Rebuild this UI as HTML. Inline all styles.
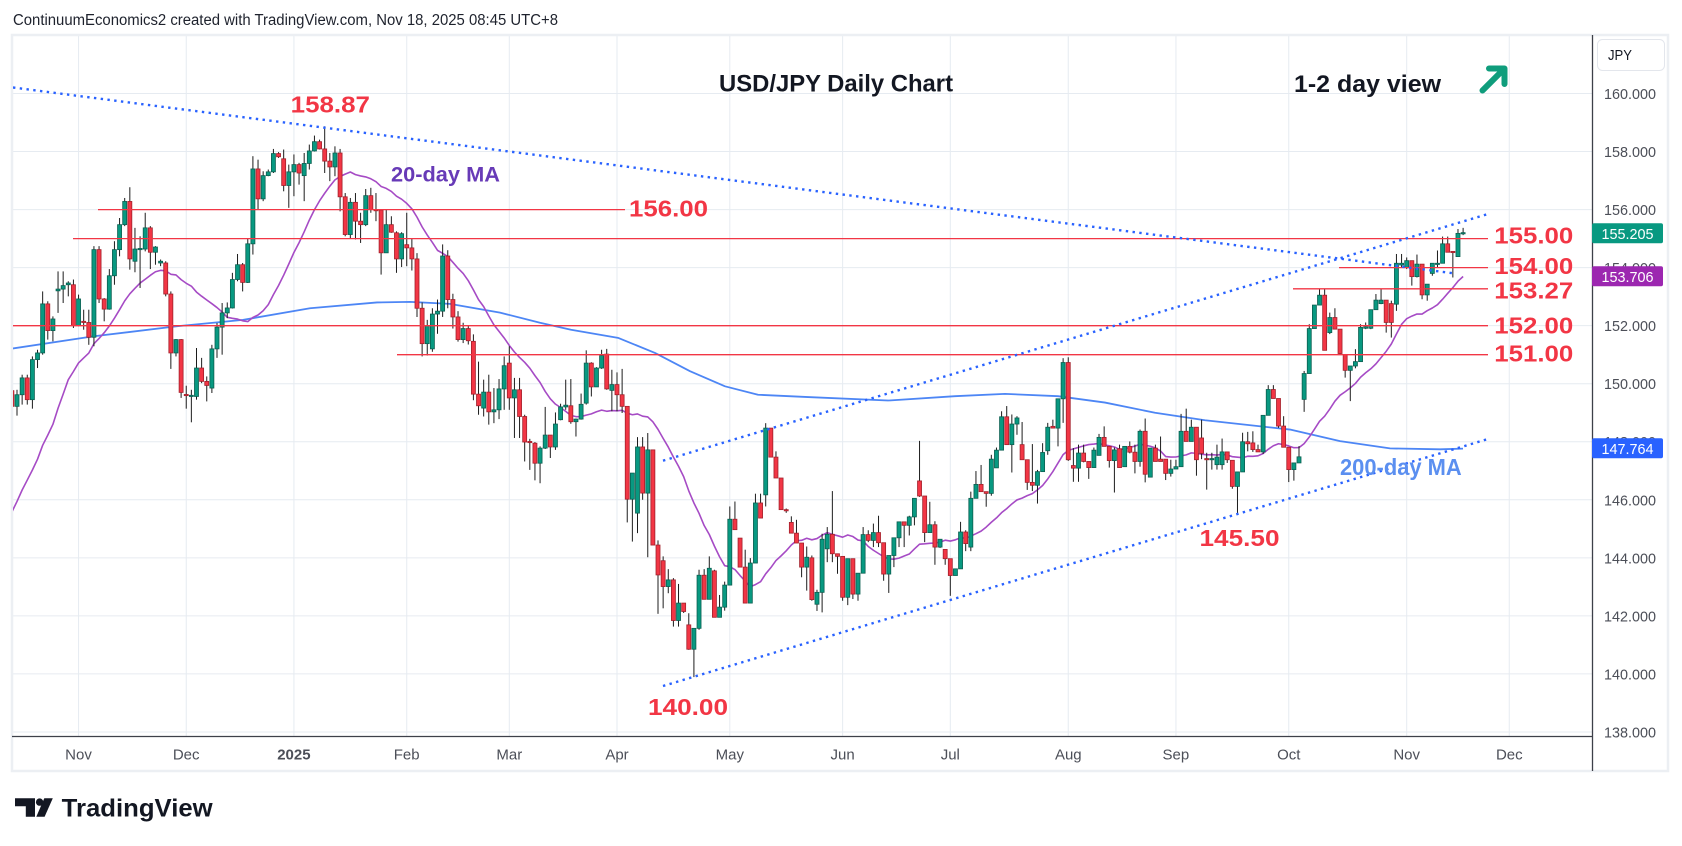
<!DOCTYPE html>
<html><head><meta charset="utf-8">
<style>
html,body{margin:0;padding:0;background:#fff;}
body{width:1682px;height:846px;overflow:hidden;}
svg{display:block;font-family:"Liberation Sans",Arial,sans-serif;}
</style></head>
<body>
<svg id="c" width="1682" height="846" viewBox="0 0 1682 846" xmlns="http://www.w3.org/2000/svg">
<defs><clipPath id="plot"><rect x="13" y="36" width="1579" height="700"/></clipPath></defs>
<rect width="1682" height="846" fill="#fff"/>
<g id="grid" stroke="#e6ebf1" stroke-width="1"></g>
<rect x="12" y="35" width="1656" height="736" fill="none" stroke="#eceff3" stroke-width="2.5"/>
<g clip-path="url(#plot)">
  <g id="ma"></g>
  <g id="wicks" stroke="#1c1c1c" stroke-width="1"></g>
  <g id="bodies"></g>
  <g stroke="#f23645" stroke-width="1.3">
    <line x1="98" x2="625" y1="209.6" y2="209.6"/>
    <line x1="73" x2="1488" y1="238.6" y2="238.6"/>
    <line x1="1339" x2="1488" y1="267.6" y2="267.6"/>
    <line x1="1293" x2="1488" y1="288.8" y2="288.8"/>
    <line x1="13" x2="1488" y1="325.7" y2="325.7"/>
    <line x1="397" x2="1488" y1="354.7" y2="354.7"/>
  </g>
  <g stroke="#2962ff" stroke-width="2.4" stroke-dasharray="2.4 4.4" fill="none">
    <line x1="13" y1="87.5" x2="1455" y2="273.5"/>
    <line x1="663" y1="460.7" x2="1487" y2="214.3"/>
    <line x1="663" y1="686" x2="1487" y2="439.3"/>
  </g>
</g>
<line x1="12" x2="1592" y1="736.5" y2="736.5" stroke="#3d4049" stroke-width="1.3"/>
<line x1="1592.5" x2="1592.5" y1="35" y2="771" stroke="#3d4049" stroke-width="1.3"/>

<!-- header -->
<text x="13" y="25" font-size="15.5" fill="#1e222d" textLength="545" lengthAdjust="spacingAndGlyphs">ContinuumEconomics2 created with TradingView.com, Nov 18, 2025 08:45 UTC+8</text>

<!-- titles -->
<text x="719" y="91.7" font-size="24" font-weight="bold" fill="#131722" textLength="234" lengthAdjust="spacingAndGlyphs">USD/JPY Daily Chart</text>
<text x="1294" y="92" font-size="24" font-weight="bold" fill="#131722" textLength="147" lengthAdjust="spacingAndGlyphs">1-2 day view</text>
<path d="M1482.5 90.5 L1503.5 69.5 M1489 68.5 H1504.5 V84" stroke="#0f9d7c" stroke-width="6" fill="none" stroke-linecap="round" stroke-linejoin="round"/>

<!-- level labels -->
<g font-size="23" font-weight="bold" fill="#f23645">
<text x="290.7" y="112.3" textLength="79.3" lengthAdjust="spacingAndGlyphs">158.87</text>
<text x="629" y="216.5" textLength="79" lengthAdjust="spacingAndGlyphs">156.00</text>
<text x="1494.3" y="243.3" textLength="79" lengthAdjust="spacingAndGlyphs">155.00</text>
<text x="1494.3" y="274" textLength="79" lengthAdjust="spacingAndGlyphs">154.00</text>
<text x="1494.3" y="298.3" textLength="79" lengthAdjust="spacingAndGlyphs">153.27</text>
<text x="1494.3" y="333.3" textLength="79" lengthAdjust="spacingAndGlyphs">152.00</text>
<text x="1494.3" y="361.7" textLength="79" lengthAdjust="spacingAndGlyphs">151.00</text>
<text x="648" y="715" textLength="80" lengthAdjust="spacingAndGlyphs">140.00</text>
<text x="1199.5" y="546" textLength="80" lengthAdjust="spacingAndGlyphs">145.50</text>
</g>
<text x="391" y="181.7" font-size="21" font-weight="bold" fill="#673ab7" textLength="109" lengthAdjust="spacingAndGlyphs">20-day MA</text>
<text x="1340" y="475" font-size="23" font-weight="bold" fill="#5b8ff0" textLength="121.7" lengthAdjust="spacingAndGlyphs">200-day MA</text>

<!-- price axis -->
<g id="paxis" font-size="15" fill="#4c4f58" text-anchor="middle"></g>
<rect x="1597.5" y="39.5" width="67" height="31" rx="5" fill="#fff" stroke="#e3e6ec"/>
<text x="1608" y="60" font-size="15" fill="#131722" textLength="24" lengthAdjust="spacingAndGlyphs">JPY</text>
<rect x="1592" y="223.3" width="71" height="20" rx="2" fill="#089981"/>
<text x="1627.5" y="238.8" font-size="15" fill="#fff" text-anchor="middle" textLength="52" lengthAdjust="spacingAndGlyphs">155.205</text>
<rect x="1592" y="266.3" width="71" height="20" rx="2" fill="#9c27b0"/>
<text x="1627.5" y="281.8" font-size="15" fill="#fff" text-anchor="middle" textLength="52" lengthAdjust="spacingAndGlyphs">153.706</text>
<rect x="1592" y="438.3" width="71" height="20" rx="2" fill="#2962ff"/>
<text x="1627.5" y="453.8" font-size="15" fill="#fff" text-anchor="middle" textLength="52" lengthAdjust="spacingAndGlyphs">147.764</text>

<!-- time axis -->
<g font-size="15" fill="#4c4f58" text-anchor="middle">
<text x="78.5" y="759.3">Nov</text>
<text x="186.2" y="759.3">Dec</text>
<text x="293.9" y="759.3" font-weight="bold">2025</text>
<text x="406.7" y="759.3">Feb</text>
<text x="509.3" y="759.3">Mar</text>
<text x="617" y="759.3">Apr</text>
<text x="729.8" y="759.3">May</text>
<text x="842.6" y="759.3">Jun</text>
<text x="950.3" y="759.3">Jul</text>
<text x="1068.3" y="759.3">Aug</text>
<text x="1175.9" y="759.3">Sep</text>
<text x="1288.8" y="759.3">Oct</text>
<text x="1406.7" y="759.3">Nov</text>
<text x="1509.3" y="759.3">Dec</text>
</g>

<!-- logo -->
<path d="M15 798.3H35V816.7H25.8V806.2H15Z" fill="#131722"/>
<circle cx="39.6" cy="802.1" r="3.7" fill="#131722"/>
<path d="M44.3 798.3H52.8L44.6 816.7H36.3Z" fill="#131722"/>
<text x="61.7" y="816.7" font-size="25" font-weight="bold" fill="#131722" textLength="151" lengthAdjust="spacingAndGlyphs">TradingView</text>
</svg>
<script>
(function(){
const X=k=>509.3+5.128*k, Y=p=>383.7-(p-150)*29.02;
const D=[
[149.76,149.9,149.1,149.22],[149.22,149.79,148.90,149.62],[149.62,150.31,149.28,150.20],[150.20,150.31,149.28,149.45],
[149.45,150.94,149.14,150.83],[150.83,151.17,150.54,151.06],[151.06,153.18,151.00,152.75],[152.75,152.84,151.52,151.83],
[151.83,152.32,151.46,152.23],[153.20,153.87,152.44,153.26],[153.26,153.87,152.78,153.38],[153.41,153.53,153.01,153.47],
[153.41,153.59,151.92,152.00],[152.00,153.07,151.98,152.92],[152.15,152.55,151.86,152.11],[152.11,152.55,151.34,151.60],
[151.60,154.74,151.29,154.62],[154.62,154.74,152.78,152.92],[152.92,152.95,152.15,152.57],[152.57,153.95,152.55,153.72],
[153.72,154.91,153.41,154.62],[154.62,155.71,154.39,155.48],[155.48,156.40,155.43,156.28],[156.28,156.77,153.93,154.30],
[154.22,155.37,153.84,154.64],[154.64,155.08,153.30,154.66],[154.64,155.89,154.56,155.37],[155.37,155.43,153.95,154.53],
[154.53,154.74,154.10,154.71],[154.16,154.28,154.05,154.22],[154.16,154.22,153.01,153.09],[153.09,153.18,150.51,151.06],
[151.06,151.54,150.94,151.52],[151.52,151.54,149.51,149.70],[149.63,149.93,149.14,149.61],[149.58,149.79,148.67,149.60],
[149.56,151.23,149.45,150.54],[150.54,150.89,150.02,150.08],[150.08,150.25,149.39,149.94],[149.85,151.34,149.68,151.20],
[151.20,152.09,150.89,151.95],[151.95,152.78,151.00,152.44],[152.44,152.80,152.26,152.61],[152.61,153.82,152.59,153.59],
[153.59,154.47,153.53,154.10],[154.10,154.16,153.18,153.49],[153.49,155.02,153.47,154.82],[154.82,157.84,154.45,157.40],
[157.40,157.72,156.00,156.37],[156.37,157.32,156.29,157.17],[157.17,157.38,157.15,157.30],[157.30,158.09,157.26,157.93],
[157.93,157.98,157.78,157.82],[157.75,158.07,156.63,156.83],[156.83,157.55,156.06,157.30],[157.30,157.90,156.46,157.55],
[157.55,157.61,156.86,157.26],[157.17,157.95,156.29,157.59],[157.59,158.24,157.38,158.02],[158.02,158.55,158.00,158.34],
[158.34,158.41,158.07,158.09],[158.09,158.87,157.26,157.67],[157.67,157.95,156.98,157.47],[157.47,158.18,157.15,157.95],
[157.95,158.09,155.94,156.44],[156.44,156.57,155.08,155.14],[155.14,156.40,155.02,156.25],[156.25,156.57,154.97,155.60],
[155.60,155.89,154.85,155.48],[155.48,156.71,155.43,156.48],[156.48,156.75,155.89,156.00],[156.00,156.57,155.60,155.96],
[155.98,156.00,153.76,154.51],[154.51,156.00,154.51,155.48],[155.48,155.77,155.20,155.22],[155.20,155.25,153.82,154.30],
[154.30,155.22,154.02,155.17],[154.79,155.89,154.05,154.68],
[154.68,155.0,153.9,154.30],[154.30,154.5,152.3,152.60],[152.60,152.8,150.94,151.38],[151.38,152.2,150.97,152.00],
[151.20,152.6,151.1,152.40],[152.40,152.9,151.72,152.50],[152.50,154.8,152.3,154.40],[154.40,154.6,152.6,152.90],
[152.90,153.1,151.9,152.30],[152.30,152.5,151.45,151.52],[151.52,152.1,151.4,151.90],[151.90,152.0,151.35,151.48],
[151.46,151.7,149.43,149.64],[149.64,150.76,148.93,149.24],[149.16,150.14,148.87,149.71],[149.71,150.31,148.59,149.03],
[149.03,149.85,148.64,149.10],[149.10,150.16,148.78,149.82],[149.82,150.94,149.10,150.62],
[150.71,151.29,149.10,149.51],[149.51,150.20,148.13,149.79],[149.79,150.20,148.13,148.87],[148.87,148.93,147.32,147.99],
[148.01,148.10,147.03,147.99],[147.95,147.99,146.67,147.26],[147.26,147.84,146.57,147.78],[147.78,149.20,147.75,148.23],
[148.23,148.23,147.44,147.82],[147.82,149.01,147.72,148.61],[148.76,149.31,148.74,149.20],[149.20,150.14,149.10,149.26],
[149.24,150.16,148.62,148.69],[148.69,148.80,148.18,148.78],[148.78,149.66,148.76,149.29],[149.33,151.15,149.28,150.71],
[150.71,150.74,149.56,149.89],[149.89,150.57,149.89,150.54],[150.54,151.17,150.51,150.97],[151.02,151.20,149.79,149.82],
[149.77,150.48,149.05,149.97],[149.97,150.39,149.05,149.62],[149.62,150.51,148.99,149.22],[149.22,149.22,145.22,146.02],
[146.02,146.92,144.56,146.92],[145.54,148.16,144.85,147.82],[147.82,148.16,146.00,146.23],[146.23,148.30,144.02,147.72],
[147.72,147.72,144.44,144.44],[144.44,144.60,142.07,143.41],[143.90,144.05,142.26,143.01],[143.01,143.61,142.78,143.24],
[143.24,143.30,141.63,141.84],[141.84,143.10,141.63,142.44],[142.44,142.44,142.10,142.15],[141.69,142.09,140.83,140.85],
[140.85,141.57,139.89,141.57],[141.57,143.59,141.52,143.40],[143.40,143.61,142.57,142.57],[142.57,144.05,142.57,143.64],
[143.55,143.59,141.95,141.95],[141.95,142.72,141.95,142.30],[142.30,143.18,142.18,143.06],[143.06,145.77,143.06,145.33],
[145.33,145.94,144.97,144.97],[144.68,144.68,143.68,143.68],[143.68,144.28,142.44,142.44],[142.44,143.99,142.44,143.82],
[143.82,146.21,143.82,145.89],[145.89,146.21,145.37,145.37],[146.17,148.64,145.77,148.47],[148.47,148.47,147.47,147.47],
[147.47,147.67,146.75,146.75],[146.75,146.75,145.66,145.66],[145.66,145.70,145.55,145.63],[145.22,145.43,144.85,144.85],
[144.85,145.31,144.51,144.51],[144.51,144.51,143.33,143.68],[143.68,144.39,142.87,144.02],
[144.00,144.08,142.52,142.56],[142.40,142.90,142.17,142.81],[142.81,144.83,142.12,144.64],[144.31,145.06,143.85,144.81],
[144.81,146.30,143.85,144.14],[144.14,144.14,143.45,144.05],[144.05,144.05,142.52,142.64],[142.64,143.97,142.37,143.97],
[143.97,143.97,142.58,142.75],[142.75,143.47,142.52,143.47],[143.47,145.06,143.47,144.80],[144.80,144.95,144.54,144.60],
[144.60,145.18,144.37,144.87],[144.87,145.45,144.37,144.52],[144.52,144.52,143.21,143.44],[143.44,144.08,142.79,144.08],
[144.08,144.69,143.68,144.69],[144.69,145.24,144.37,145.24],[145.24,145.24,144.37,145.12],[145.12,145.45,144.77,145.41],
[145.41,146.05,145.12,146.05],[146.65,148.03,146.10,146.13],[146.13,146.13,144.54,144.87],[144.87,145.93,144.87,145.14],
[145.14,145.26,143.76,144.37],[144.37,144.64,144.34,144.64],[144.29,144.29,143.76,143.97],[143.97,143.97,142.69,143.39],
[143.39,143.62,143.39,143.62],[143.62,145.24,143.62,144.89],[144.89,144.95,144.23,144.49],[144.37,146.28,144.23,146.05],
[146.05,146.99,146.05,146.53],[146.53,147.20,146.28,146.28],[146.28,146.28,145.76,146.22],[146.22,147.55,146.14,147.40],
[147.10,147.80,147.10,147.71],[147.71,149.05,147.71,148.86],[148.86,149.23,147.90,147.90],[147.90,148.94,146.94,148.61],
[148.61,148.88,148.24,148.82],[147.90,148.68,147.38,147.38],[147.38,147.38,146.34,146.60],[146.60,147.92,146.30,146.50],
[146.50,147.03,145.87,146.97],[146.97,147.95,146.97,147.63],[147.69,148.65,147.55,148.50],[148.53,148.76,148.47,148.47],
[148.47,149.48,147.84,149.48],[149.48,150.88,148.65,150.73],[150.73,150.91,147.34,147.38],[147.18,147.78,146.62,147.09],
[147.09,147.90,146.62,147.61],[147.61,147.90,147.29,147.32],[147.32,147.32,146.72,147.11],[147.11,147.80,147.11,147.71],
[147.53,148.27,147.53,148.15],[148.15,148.53,147.84,147.84],[147.84,147.84,147.11,147.35],[147.35,147.80,146.25,147.72],
[147.76,147.90,147.11,147.11],[147.14,147.84,147.14,147.84],[147.84,148.01,147.60,147.64],[147.64,147.90,146.91,147.32],
[147.32,148.42,147.14,148.36],[148.36,148.80,146.60,146.88],[146.78,147.78,146.78,147.78],[147.78,147.90,147.32,147.32],
[147.40,148.18,147.32,147.32],[147.40,147.40,146.68,146.91],[146.91,147.38,146.80,147.06],[147.06,147.38,147.06,147.14],
[147.14,148.96,147.14,148.36],[148.36,149.14,148.01,148.01],[148.01,148.76,148.01,148.50],[148.50,148.50,146.83,147.38],
[148.13,148.76,147.40,147.60],
[147.42,147.62,146.35,147.38],[147.38,147.62,147.04,147.42],[147.21,147.90,147.04,147.47],[147.21,148.11,147.04,147.65],
[147.65,147.65,147.27,147.38],[147.36,147.36,146.38,146.46],[146.46,146.96,145.48,146.96],[146.96,148.31,146.96,148.00],
[148.00,148.34,147.67,147.93],[147.96,148.36,147.65,147.73],[147.73,147.90,147.65,147.65],[147.65,148.91,147.58,148.91],
[148.91,149.95,148.91,149.80],[149.80,149.95,149.49,149.49],[149.49,149.49,148.48,148.54],[148.54,148.88,147.81,147.81],
[147.81,147.81,146.61,147.04],[147.04,147.27,146.66,147.27],[147.27,147.85,147.27,147.48],[149.46,150.44,149.03,150.35],
[150.35,152.05,150.35,151.90],[151.90,152.71,151.90,152.71],[152.71,153.26,152.71,153.05],[153.05,153.26,151.15,151.15],
[151.76,152.45,151.71,152.28],[152.28,152.60,151.88,151.88],[151.88,151.88,151.01,151.04],[151.01,151.01,150.21,150.46],
[150.46,150.61,149.40,150.61],[150.61,151.19,150.53,150.76],[150.76,152.05,150.76,151.94],[151.91,152.11,151.88,151.96],
[151.91,152.55,151.88,152.55],[152.55,153.09,152.55,152.88],[152.76,153.26,152.74,152.88],[152.88,152.88,151.76,152.11],
[152.76,152.86,151.59,152.11],[152.74,154.47,152.51,154.15],[154.09,154.47,153.99,154.15],[154.01,154.35,153.95,154.24],
[154.24,154.24,153.38,153.69],[153.69,154.45,153.66,154.12],[154.12,154.12,152.91,153.06],[153.06,153.43,152.86,153.43],
[153.80,154.15,153.72,154.15],[154.12,154.59,154.00,154.15],[154.15,155.07,154.15,154.82],[154.82,155.07,154.53,154.53],
[154.56,154.56,153.66,154.53],[154.38,155.33,154.38,155.18],[155.18,155.37,155.12,155.205]
];
const k0=-97;
const f=v=>v.toFixed(2);
// grid
let g='';
for(let p=138;p<=160;p+=2){const y=f(Y(p));g+=`<line x1="13" x2="1592" y1="${y}" y2="${y}"/>`;}
[-84,-63,-42,-20,0,21,43,65,86,109,130,152,175,195].forEach(k=>{const x=f(X(k));g+=`<line x1="${x}" x2="${x}" y1="36" y2="736"/>`;});
document.getElementById('grid').innerHTML=g;
// price axis labels
let pa='';
for(let p=138;p<=160;p+=2){pa+=`<text x="1630" y="${f(Y(p)+5.5)}" textLength="52" lengthAdjust="spacingAndGlyphs">${p}.000</text>`;}
document.getElementById('paxis').innerHTML=pa;
// candles
let w='',b='';
D.forEach((d,i)=>{
  const k=k0+i,x=X(k);let [o,h,l,c]=d;
  h=Math.max(h,o,c);l=Math.min(l,o,c);
  const up=c>=o,col=up?'#089981':'#f23645',bc=up?'#0b5f50':'#a3202b';
  w+=`<line x1="${f(x)}" x2="${f(x)}" y1="${f(Y(h))}" y2="${f(Y(l))}"/>`;
  const yt=Y(Math.max(o,c)),yb=Y(Math.min(o,c)),hh=Math.max(yb-yt,1.2);
  b+=`<rect x="${f(x-2)}" y="${f(yt)}" width="4" height="${f(hh)}" fill="${col}" stroke="${bc}" stroke-width="0.8"/>`;
});
document.getElementById('wicks').innerHTML=w;
document.getElementById('bodies').innerHTML=b;
// SMA20
const hist=[142.4,142.3,142.6,143.9,143.6,143.2,144.8,144.8,142.2,143.6,143.5,146.4,147.0,148.7,148.2,148.2,149.3,148.6,149.1];
const cl=hist.concat(D.map(d=>d[3]));
let pts=[];
for(let i=0;i<D.length;i++){
  const j=i+hist.length;let s=0;for(let q=j-19;q<=j;q++)s+=cl[q];
  pts.push(f(X(k0+i))+','+f(Y(s/20)));
}
// 200MA
const m2=[[10,151.2],[93,151.63],[177,151.98],[243,152.2],[310,152.6],[377,152.8],[410,152.82],[450,152.75],[500,152.45],[540,152.1],[571,151.86],[618,151.58],[655,151.06],[690,150.43],[725,149.91],[758,149.62],[808,149.54],[888,149.42],[955,149.57],[1005,149.65],[1058,149.57],[1105,149.35],[1155,149.0],[1205,148.74],[1290,148.42],[1340,148.02],[1390,147.77],[1440,147.74],[1463,147.764]];
const p2=m2.map(a=>f(a[0])+','+f(Y(a[1]))).join(' ');
document.getElementById('ma').innerHTML=
 `<polyline points="${p2}" fill="none" stroke="#4d86f5" stroke-width="1.8" stroke-linejoin="round"/>`+
 `<polyline points="${pts.join(' ')}" fill="none" stroke="#a64bc5" stroke-width="1.6" stroke-linejoin="round"/>`;
})();
</script>
</body></html>
